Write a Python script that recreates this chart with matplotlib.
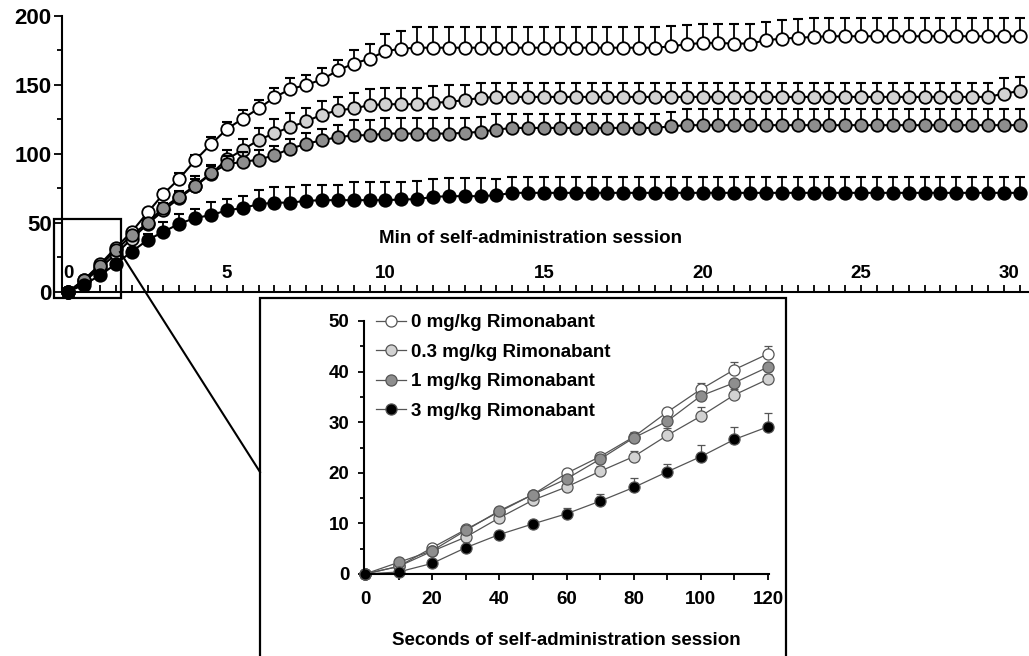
import numpy as np
import matplotlib.pyplot as plt
from matplotlib.patches import Rectangle
from matplotlib.lines import Line2D
from matplotlib.ticker import MultipleLocator

plt.rcParams['font.family'] = ['Liberation Sans', 'DejaVu Sans']
plt.rcParams['font.weight'] = 'bold'

# main panel: cumulative responses in half-minute bins, 0-30 min
minutes = np.arange(0, 30.5, 0.5)

dose0_min = [0, 8.8, 19.9, 32, 43.5, 57.5, 71, 82, 95.4, 107, 118, 125.6, 132.9, 141, 147,
             150, 154, 160.5, 165.5, 169, 174.5, 176.3, 177, 177, 177, 177, 177, 177, 177,
             177, 177, 177, 177, 177, 177, 177, 177, 177, 178, 179.5, 180.4, 180.4, 180, 180,
             182.4, 183.6, 184.2, 184.8] + [185.3] * 13
dose0_min_err = [0, 0.5, 0.8, 1, 1.6, 2, 3, 4, 4, 5, 5, 6, 6.5, 7, 8, 7, 8, 7.5, 10, 11,
                 12.5, 13, 15, 15, 15, 15, 15, 15, 15, 15, 15, 15, 15, 15, 15, 15, 15, 15,
                 15, 14, 14, 14, 14, 14, 13.5, 13.5, 13.5, 13.5] + [13.5] * 13

dose03_min = [0, 7.3, 17.2, 27.4, 38.5, 49, 59, 68, 76.5, 85.5, 96, 103, 110, 115, 119.5,
              123.5, 128.5, 131.5, 133, 135.3, 136, 136, 136, 137, 137.7, 139, 140.6] + \
             [141.3] * 32 + [143.7, 145.6]
dose03_min_err = [0, 0.5, 0.8, 1.4, 1.5, 2, 3, 4, 5, 6, 7, 8, 8.5, 10, 10, 10, 10, 10, 11,
                  12, 12, 12, 12, 12, 12, 11, 11] + [10] * 32 + [11, 10]

dose1_min = [0, 8.6, 18.8, 30.2, 40.9, 50, 61, 69, 77, 86, 92.5, 94.2, 95.8, 99, 103.8,
             107.2, 110, 112, 113.5, 113.5, 114.7, 114.7, 114.7, 114.7, 114.7, 115.2, 116,
             117.6] + [118.8] * 10 + [120] + [120.8] * 22
dose1_min_err = [0, 0.5, 0.8, 1, 1, 2, 3, 4, 7, 6, 6, 7, 7, 7, 7, 8, 8, 9, 11, 11, 11, 11,
                 11, 11, 11, 11, 11, 11] + [10] * 10 + [10] + [12] * 22

dose3_min = [0, 5.2, 11.9, 20.2, 29.1, 37.5, 43.5, 49.3, 53.5, 55.6, 59, 60.7, 63.5, 64.6,
             64.6, 65.9, 66.4, 66.4, 66.4, 66.4, 66.4, 66.9, 67.1, 68.8, 69.3, 69.3, 69.3,
             70] + [71.7] * 33
dose3_min_err = [0, 0.8, 1.2, 1.6, 2.7, 4, 7, 7, 6.5, 9.4, 8.5, 9, 10.5, 11, 11, 11.6, 11,
                 11, 13, 13, 13, 13, 13, 13, 13, 13, 13, 12] + [11.6] * 33

# inset: first 120 s in 10 s bins
seconds = np.arange(0, 121, 10)
dose0_sec = [0, 1.5, 5.2, 8.8, 12.3, 15.7, 19.9, 23.2, 27.1, 32.0, 36.5, 40.4, 43.5]
dose03_sec = [0, 1.5, 4.5, 7.3, 11.1, 14.6, 17.2, 20.3, 23.2, 27.4, 31.2, 35.4, 38.5]
dose1_sec = [0, 2.3, 4.6, 8.6, 12.5, 15.7, 18.8, 22.7, 26.9, 30.2, 35.2, 37.8, 40.9]
dose3_sec = [0, 0.4, 2.1, 5.2, 7.8, 9.9, 11.9, 14.4, 17.1, 20.2, 23.2, 26.6, 29.1]
dose0_sec_err = [0, 0.3, 0.4, 0.5, 0.5, 0.6, 0.8, 0.8, 0.9, 0.9, 1.2, 1.4, 1.6]
dose03_sec_err = [0, 0.3, 0.4, 0.6, 0.7, 0.8, 0.9, 1.0, 1.1, 1.4, 1.8, 1.2, 1.0]
dose1_sec_err = [0, 0.3, 0.4, 0.5, 0.5, 0.5, 0.6, 0.7, 1.0, 0.8, 0.8, 0.8, 0.8]
dose3_sec_err = [0, 0.3, 0.4, 0.5, 0.6, 0.6, 1.2, 1.4, 1.9, 1.6, 2.3, 2.5, 2.7]

min_ticks = [0, 5, 10, 15, 20, 25, 30]
labels = ['0 mg/kg Rimonabant', '0.3 mg/kg Rimonabant', '1 mg/kg Rimonabant', '3 mg/kg Rimonabant']
fills = ['white', '#d2d2d2', '#8e8e8e', 'black']

W, H = 1029, 656
fig = plt.figure(figsize=(W / 100, H / 100), dpi=100)

# ---- main panel
ax = fig.add_axes([62 / W, (H - 291.7) / H, (1028 - 62) / W, (291.7 - 16) / H])
main_series = [(dose0_min, dose0_min_err), (dose03_min, dose03_min_err),
               (dose1_min, dose1_min_err), (dose3_min, dose3_min_err)]
for (vals, err), fc in zip(main_series, fills):
    vals = np.array(vals)
    err = np.array(err)
    ax.errorbar(minutes, vals, yerr=[np.zeros_like(err), err], fmt='none', ecolor='black',
                elinewidth=1.3, capsize=3.5, capthick=1.5, clip_on=False)
    ax.plot(minutes, vals, '-o', color='black', lw=1.5, ms=9, mfc=fc, mec='black', mew=1.3,
            clip_on=False)

ax.set_xlim(-0.2, 30.26)
ax.set_ylim(0, 200)
ax.spines['top'].set_visible(False)
ax.spines['right'].set_visible(False)
ax.spines['left'].set_linewidth(1.5)
ax.spines['bottom'].set_linewidth(1.5)
ax.yaxis.set_major_locator(MultipleLocator(50))
ax.yaxis.set_minor_locator(MultipleLocator(25))
ax.tick_params(axis='y', which='major', direction='out', length=6, width=1.3, pad=1.5, labelsize=16)
ax.tick_params(axis='y', which='minor', direction='out', length=3.5, width=1.3)
ax.set_xticks(min_ticks)
ax.xaxis.set_minor_locator(MultipleLocator(0.5))
ax.tick_params(axis='x', which='both', direction='in', length=5, width=1.3)
ax.tick_params(axis='x', which='major', pad=-19, labelsize=13.5)
ax.get_xticklabels()[-1].set_horizontalalignment('right')
for t in ax.get_xticklabels() + ax.get_yticklabels():
    t.set_fontweight('bold')
ax.set_xlabel('Min of self-administration session', fontsize=13.5, fontweight='bold')
ax.xaxis.set_label_coords(0.485, 0.225)

# zoom box around the first two minutes
ax.add_patch(Rectangle((-0.45, -4.6), 2.11, 57.3, fill=False, lw=1.6, ec='black',
                       clip_on=False, zorder=5))

# ---- inset
ax2 = fig.add_axes([364 / W, (H - 574) / H, (769 - 364) / W, (574 - 321) / H])
inset_series = [(dose0_sec, dose0_sec_err), (dose03_sec, dose03_sec_err),
                (dose1_sec, dose1_sec_err), (dose3_sec, dose3_sec_err)]
for (vals, err), fc, lab in zip(inset_series, fills, labels):
    vals = np.array(vals)
    err = np.array(err)
    ax2.errorbar(seconds, vals, yerr=[np.zeros_like(err), err], fmt='none', ecolor='#555555',
                 elinewidth=0.9, capsize=3, capthick=0.9, clip_on=False)
    ax2.plot(seconds, vals, '-o', color='#555555', lw=0.9, ms=8, mfc=fc, mec='#555555',
             mew=0.9, clip_on=False, label=lab)

ax2.set_xlim(-0.3, 120.3)
ax2.set_ylim(0, 50)
ax2.spines['top'].set_visible(False)
ax2.spines['right'].set_visible(False)
ax2.spines['left'].set_linewidth(1.5)
ax2.spines['bottom'].set_linewidth(1.5)
ax2.xaxis.set_major_locator(MultipleLocator(20))
ax2.xaxis.set_minor_locator(MultipleLocator(10))
ax2.yaxis.set_major_locator(MultipleLocator(10))
ax2.yaxis.set_minor_locator(MultipleLocator(5))
ax2.tick_params(axis='x', which='both', direction='out', length=4.5, width=1.3)
ax2.tick_params(axis='x', which='major', pad=8, labelsize=13.5)
ax2.tick_params(axis='y', which='major', direction='out', length=4.5, width=1.3, pad=6, labelsize=13.5)
ax2.tick_params(axis='y', which='minor', direction='out', length=3, width=1.3)
for t in ax2.get_xticklabels() + ax2.get_yticklabels():
    t.set_fontweight('bold')
ax2.set_xlabel('Seconds of self-administration session', fontsize=13.5, fontweight='bold',
               labelpad=17)

leg = ax2.legend(loc='upper left', bbox_to_anchor=(376 / W, (H - 314) / H),
                 bbox_transform=fig.transFigure, frameon=False, borderpad=0,
                 borderaxespad=0, handlelength=1.6, handletextpad=0.25,
                 labelspacing=0.66, prop={'size': 13.5, 'weight': 'bold'})

# frame around inset and connector line
fig.add_artist(Rectangle((260 / W, -0.02), (786 - 260) / W, (H - 298) / H + 0.02,
                         transform=fig.transFigure, fill=False, lw=1.6, ec='black'))
fig.add_artist(Line2D([120 / W, 260 / W], [(H - 252) / H, (H - 472) / H],
                      transform=fig.transFigure, color='black', lw=1.5))

fig.savefig('out.png', dpi=100, facecolor='white')
